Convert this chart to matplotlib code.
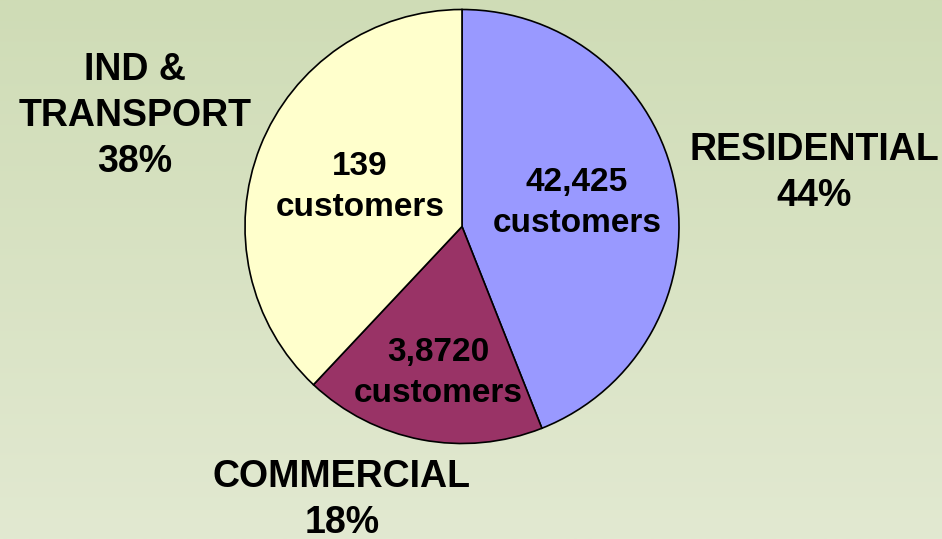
import numpy as np
import matplotlib.pyplot as plt
from matplotlib.colors import LinearSegmentedColormap

# data
sectors = ['RESIDENTIAL', 'COMMERCIAL', 'IND &\nTRANSPORT']
shares = [44, 18, 38]
customers = ['42,425', '3,8720', '139']
colors = ['#9999ff', '#993366', '#ffffcc']

plt.rcParams['font.family'] = ['Liberation Sans', 'DejaVu Sans']
plt.rcParams['font.weight'] = 'bold'

W, H = 942, 539
fig = plt.figure(figsize=(W / 100, H / 100), dpi=100)

# background gradient
bg = fig.add_axes([0, 0, 1, 1])
cmap = LinearSegmentedColormap.from_list('bg', ['#cfdcb6', '#e2e9d1'])
grad = np.linspace(0, 1, 256).reshape(-1, 1)
bg.imshow(grad, aspect='auto', cmap=cmap, extent=[0, 1, 0, 1], origin='upper')
bg.axis('off')

# pie axes: center (462, 226.5) px, radius 217 px
cx, cy, r = 462, 226.5, 217
ax = fig.add_axes([(cx - r) / W, (H - cy - r) / H, 2 * r / W, 2 * r / H])
ax.pie(shares, colors=colors, startangle=90, counterclock=False,
       wedgeprops=dict(edgecolor='black', linewidth=1.2))
ax.set_xlim(-1, 1)
ax.set_ylim(-1, 1)
ax.set_aspect('equal')
ax.axis('off')


def px(x, y):
    return (x - cx) / r, (cy - y) / r


outer_pos = [(814, 173), (342, 500), (135, 116)]
inner_pos = [(577, 203), (438, 373), (360, 187)]

for name, s, cust, op, ip in zip(sectors, shares, customers, outer_pos, inner_pos):
    ax.text(*px(*op), f'{name}\n{s}%', ha='center', va='center',
            fontsize=27, fontweight='bold', linespacing=1.35, clip_on=False)
    ax.text(*px(*ip), f'{cust}\ncustomers', ha='center', va='center',
            fontsize=24, fontweight='bold', linespacing=1.38, clip_on=False)

fig.savefig('out.png', dpi=100)
